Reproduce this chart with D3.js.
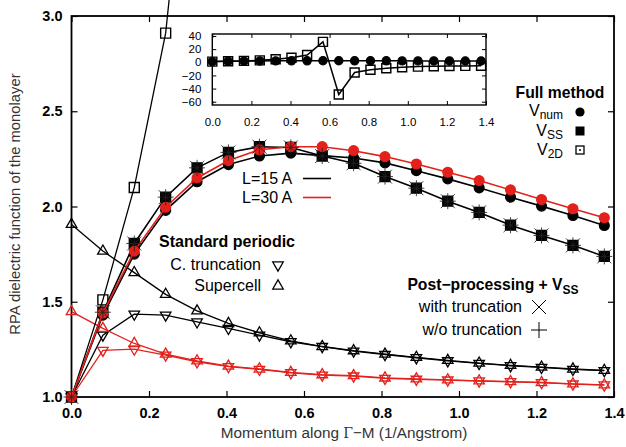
<!DOCTYPE html>
<html>
<head>
<meta charset="utf-8">
<script src="https://cdn.jsdelivr.net/npm/d3@7"></script>
<style>
  body { margin: 0; background: #fff; }
  text { font-family: "Liberation Sans", Arial, Helvetica, sans-serif; }
</style>
</head>
<body>
<div class="canvas"></div>
<script>
// momentum grid along Gamma-M (1/Angstrom)
const momentum = [0.000, 0.081, 0.162, 0.243, 0.324, 0.405, 0.485, 0.566, 0.647,
                  0.728, 0.809, 0.890, 0.971, 1.052, 1.133, 1.213, 1.294, 1.375];

// full method
const vnum15 = [1.00, 1.43, 1.75, 1.98, 2.13, 2.22, 2.265, 2.28, 2.267, 2.255, 2.229, 2.188, 2.145, 2.098, 2.049, 2.002, 1.953, 1.900];
const vnum30 = [1.00, 1.44, 1.766, 1.996, 2.15, 2.241, 2.298, 2.314, 2.314, 2.293, 2.262, 2.223, 2.180, 2.136, 2.087, 2.037, 1.988, 1.941];
const vss15 = [1.00, 1.445, 1.806, 2.049, 2.203, 2.284, 2.314, 2.310, 2.265, 2.227, 2.157, 2.096, 2.028, 1.969, 1.902, 1.848, 1.796, 1.738];
const v2d15 = [1.00, 1.51, 2.10, 2.91, 4.5, 6.9, 11, 31, -49, -15.5, -11.5, -9, -7.5, -6.6, -6.2, -5.8, -5.5, -5.3];

// standard periodic
const cTrunc15 = [1.00, 1.325, 1.435, 1.430, 1.394, 1.360, 1.325, 1.290, 1.265, 1.241, 1.223, 1.206, 1.190, 1.176, 1.164, 1.155, 1.145, 1.138];
const supercell15 = [1.906, 1.766, 1.653, 1.539, 1.452, 1.386, 1.337, 1.295, 1.265, 1.243, 1.225, 1.208, 1.192, 1.178, 1.166, 1.157, 1.147, 1.140];
const cTrunc30 = [1.00, 1.245, 1.251, 1.220, 1.185, 1.159, 1.145, 1.127, 1.115, 1.110, 1.098, 1.093, 1.089, 1.084, 1.080, 1.075, 1.068, 1.063];
const supercell30 = [1.448, 1.360, 1.281, 1.225, 1.190, 1.162, 1.147, 1.129, 1.117, 1.112, 1.100, 1.095, 1.090, 1.085, 1.081, 1.076, 1.069, 1.064];

// post-processing + V_SS
const postTrunc15 = [1.00, 1.445, 1.806, 2.049, 2.203, 2.284, 2.314, 2.310, 2.265, 2.227, 2.157, 2.096, 2.028, 1.969, 1.902, 1.848, 1.796, 1.738];
const postNoTrunc15 = [1.00, 1.445, 1.806, 2.049, 2.203, 2.284, 2.314, 2.310, 2.265, 2.227, 2.157, 2.096, 2.028, 1.969, 1.902, 1.848, 1.796, 1.738];

const xTicks = [0, 0.2, 0.4, 0.6, 0.8, 1.0, 1.2, 1.4];
const yTicks = [1.0, 1.5, 2.0, 2.5, 3.0];
const insetYTicks = [-60, -40, -20, 0, 20, 40];

const dims = { width: 626, height: 447, left: 71.5, right: 614, top: 16, bottom: 397 };
const inset = { left: 212.3, right: 486, top: 34, bottom: 105 };
const red = '#e3201b';
const black = '#000';

const svg = d3.select('.canvas')
    .append('svg')
    .attr('width', dims.width)
    .attr('height', dims.height);

const x = d3.scaleLinear().domain([0, 1.4]).range([dims.left, dims.right]);
const y = d3.scaleLinear().domain([1, 3]).range([dims.bottom, dims.top]);
const xi = d3.scaleLinear().domain([0, 1.4]).range([inset.left, inset.right]);
const yi = d3.scaleLinear().domain([-65, 43]).range([inset.bottom, inset.top]);

const zip = vals => vals.map((v, i) => [momentum[i], v]);

// ---------- axes ----------
const styleAxis = (g, size, weight) => {
    g.select('.domain').remove();
    g.selectAll('.tick line').attr('stroke', '#000').attr('stroke-width', 1.2);
    g.selectAll('.tick text')
        .attr('fill', '#000')
        .style('font-size', size + 'px')
        .style('font-weight', weight)
        .style('font-family', '"Liberation Sans", Arial, sans-serif');
};

const fmt1 = d3.format('.1f');

svg.append('g')
    .attr('transform', `translate(0,${dims.bottom})`)
    .call(d3.axisBottom(x).tickValues(xTicks).tickSize(-6).tickPadding(11).tickFormat(fmt1))
    .call(g => styleAxis(g, 14.5, 'bold'));
svg.append('g')
    .attr('transform', `translate(0,${dims.top})`)
    .call(d3.axisTop(x).tickValues(xTicks).tickSize(-6).tickFormat(''))
    .call(g => styleAxis(g, 14, 'bold'));
svg.append('g')
    .attr('transform', `translate(${dims.left},0)`)
    .call(d3.axisLeft(y).tickValues(yTicks).tickSize(-6).tickPadding(9).tickFormat(fmt1))
    .call(g => styleAxis(g, 14.5, 'bold'));
svg.append('g')
    .attr('transform', `translate(${dims.right},0)`)
    .call(d3.axisRight(y).tickValues(yTicks).tickSize(-6).tickFormat(''))
    .call(g => styleAxis(g, 14, 'bold'));

svg.append('rect')
    .attr('x', dims.left).attr('y', dims.top)
    .attr('width', dims.right - dims.left).attr('height', dims.bottom - dims.top)
    .attr('fill', 'none').attr('stroke', '#000').attr('stroke-width', 1.8);

const xTitle = svg.append('text')
    .attr('x', 344).attr('y', 438)
    .attr('text-anchor', 'middle')
    .attr('fill', '#333')
    .style('font-size', '15.3px');
xTitle.append('tspan').text('Momentum along ');
xTitle.append('tspan').style('font-family', '"DejaVu Serif", "Liberation Serif", serif').style('font-size', '14px').text('Γ');
xTitle.append('tspan').text('−M (1/Angstrom)');

svg.append('text')
    .attr('transform', 'translate(20,204) rotate(-90)')
    .attr('text-anchor', 'middle')
    .attr('fill', '#333')
    .style('font-size', '14.8px')
    .text('RPA dielectric function of the monolayer');

// ---------- markers ----------
const shapes = {
    circle: d3.symbol().type(d3.symbolCircle).size(76)(),
    square: d3.symbol().type(d3.symbolSquare).size(100)(),
    triUp: d3.symbol().type(d3.symbolTriangle).size(48)(),
    times: 'M-7,-7L7,7M-7,7L7,-7',
    plus: 'M-8,0L8,0M0,-8L0,8'
};

const drawLine = (g, pts, color, xs, ys, width = 1.5) => {
    g.append('path')
        .datum(pts)
        .attr('fill', 'none')
        .attr('stroke', color)
        .attr('stroke-width', width)
        .attr('d', d3.line().x(d => xs(d[0])).y(d => ys(d[1])));
};

const drawMarks = (g, pts, shape, color, xs, ys, opts = {}) => {
    const filled = opts.filled || false;
    g.selectAll(null)
        .data(pts)
        .enter()
        .append('path')
        .attr('d', opts.path || shapes[shape])
        .attr('transform', d => `translate(${xs(d[0])},${ys(d[1])})${opts.rotate ? ' rotate(180)' : ''}${opts.scale ? ` scale(${opts.scale})` : ''}`)
        .attr('fill', filled ? color : 'none')
        .attr('stroke', color)
        .attr('stroke-width', opts.sw || 1.3)
        .attr('stroke-opacity', opts.opacity || 1);
};

const plot = svg.append('g');

// standard periodic
[[cTrunc15, supercell15, black], [cTrunc30, supercell30, red]].forEach(([ct, sc, c]) => {
    drawLine(plot, zip(sc), c, x, y, 1.3);
    drawLine(plot, zip(ct), c, x, y, 1.3);
    drawMarks(plot, zip(sc), 'triUp', c, x, y, { sw: 1.3 });
    drawMarks(plot, zip(ct), 'triUp', c, x, y, { sw: 1.3, rotate: true });
});

// V2D in main panel: only segments touching the visible range (like gnuplot's clipping)
svg.append('clipPath').attr('id', 'mainClip')
    .append('rect').attr('x', dims.left).attr('y', 0)
    .attr('width', dims.right - dims.left).attr('height', dims.bottom);
const inRange = v => v >= 1 && v <= 3;
const v2dPts = zip(v2d15);
const v2dDefined = v2dPts.filter((d, i) => inRange(d[1]) || (i > 0 && inRange(v2dPts[i - 1][1])));
const v2dGroup = plot.append('g').attr('clip-path', 'url(#mainClip)');
drawLine(v2dGroup, v2dDefined, black, x, y, 1.3);
drawMarks(v2dGroup, v2dPts.filter(d => inRange(d[1])), 'square', black, x, y, { sw: 1.4 });

// full method
drawLine(plot, zip(vnum15), black, x, y, 1.6);
drawMarks(plot, zip(vnum15), 'circle', black, x, y, { filled: true });
drawLine(plot, zip(vss15), black, x, y, 1.6);
drawMarks(plot, zip(vss15), 'square', black, x, y, { filled: true });
drawLine(plot, zip(vnum30), red, x, y, 1.6);
drawMarks(plot, zip(vnum30), 'circle', red, x, y, { filled: true });

// post-processing
drawMarks(plot, zip(postTrunc15), 'times', '#222', x, y, { sw: 1, opacity: 0.85 });
drawMarks(plot, zip(postNoTrunc15), 'plus', '#222', x, y, { sw: 1, opacity: 0.85 });

// ---------- inset ----------
const ins = svg.append('g');
ins.append('g')
    .attr('transform', `translate(0,${inset.bottom})`)
    .call(d3.axisBottom(xi).tickValues(xTicks).tickSize(-4).tickPadding(12.5).tickFormat(fmt1))
    .call(g => styleAxis(g, 11.5, 'normal'));
ins.append('g')
    .attr('transform', `translate(0,${inset.top})`)
    .call(d3.axisTop(xi).tickValues(xTicks).tickSize(-4).tickFormat(''))
    .call(g => styleAxis(g, 11, 'normal'));
ins.append('g')
    .attr('transform', `translate(${inset.left},0)`)
    .call(d3.axisLeft(yi).tickValues(insetYTicks).tickSize(-4).tickPadding(11).tickFormat(d => d < 0 ? '−' + Math.abs(d) : d))
    .call(g => styleAxis(g, 11.5, 'normal'));
ins.append('g')
    .attr('transform', `translate(${inset.right},0)`)
    .call(d3.axisRight(yi).tickValues(insetYTicks).tickSize(-4).tickFormat(''))
    .call(g => styleAxis(g, 11, 'normal'));
ins.selectAll('.tick line').attr('stroke-width', 1);
ins.append('rect')
    .attr('x', inset.left).attr('y', inset.top)
    .attr('width', inset.right - inset.left).attr('height', inset.bottom - inset.top)
    .attr('fill', 'none').attr('stroke', '#000').attr('stroke-width', 1.4);

drawLine(ins, zip(vnum15), black, xi, yi, 1.5);
drawMarks(ins, zip(vnum15), 'circle', black, xi, yi, { filled: true, scale: 0.85 });
drawLine(ins, zip(v2d15), black, xi, yi, 1.5);
drawMarks(ins, zip(v2d15), 'square', black, xi, yi, { sw: 1.6, scale: 0.9 });

// ---------- legends ----------
const leg = svg.append('g');
const addText = (xp, yp, str, opts = {}) => leg.append('text')
    .attr('x', xp).attr('y', yp)
    .attr('text-anchor', opts.anchor || 'start')
    .style('font-size', (opts.size || 16) + 'px')
    .style('font-weight', opts.weight || 'normal')
    .attr('fill', '#000')
    .text(str);

addText(242, 184, 'L=15 A', { size: 16 });
addText(242, 203, 'L=30 A', { size: 16 });
leg.append('line').attr('x1', 303).attr('x2', 331).attr('y1', 178.5).attr('y2', 178.5).attr('stroke', black).attr('stroke-width', 1.6);
leg.append('line').attr('x1', 303).attr('x2', 331).attr('y1', 197.5).attr('y2', 197.5).attr('stroke', red).attr('stroke-width', 1.6);

addText(227, 247, 'Standard periodic', { anchor: 'middle', weight: 'bold', size: 16 });
addText(261, 270, 'C. truncation', { anchor: 'end' });
addText(261, 291, 'Supercell', { anchor: 'end' });
leg.append('path').attr('d', shapes.triUp).attr('transform', 'translate(278,265) rotate(180)')
    .attr('fill', 'none').attr('stroke', '#000').attr('stroke-width', 1.3);
leg.append('path').attr('d', shapes.triUp).attr('transform', 'translate(278,286)')
    .attr('fill', 'none').attr('stroke', '#000').attr('stroke-width', 1.3);

addText(560, 98, 'Full method', { anchor: 'middle', weight: 'bold', size: 15.7 });
const subLabel = (xEnd, yp, main, sub) => {
    const t = addText(xEnd, yp, '', { anchor: 'end', size: 16 });
    t.append('tspan').text(main);
    t.append('tspan').attr('dy', 3).style('font-size', '12px').text(sub);
    return t;
};
subLabel(563, 116, 'V', 'num');
subLabel(563, 135.5, 'V', 'SS');
subLabel(563, 155, 'V', '2D');
leg.append('circle').attr('cx', 580).attr('cy', 112).attr('r', 4.6).attr('fill', '#000');
leg.append('rect').attr('x', 575.5).attr('y', 126.5).attr('width', 9).attr('height', 9).attr('fill', '#000');
leg.append('rect').attr('x', 576).attr('y', 146).attr('width', 8).attr('height', 8)
    .attr('fill', 'none').attr('stroke', '#000').attr('stroke-width', 1.3);
leg.append('circle').attr('cx', 580).attr('cy', 150).attr('r', 1).attr('fill', '#000');

const pp = addText(493, 290, '', { anchor: 'middle', weight: 'bold', size: 15.7 });
pp.append('tspan').text('Post−processing + V');
pp.append('tspan').attr('dy', 4).style('font-size', '12px').text('SS');
addText(522, 312, 'with truncation', { anchor: 'end' });
addText(522, 335, 'w/o truncation', { anchor: 'end' });
leg.append('path').attr('d', shapes.times).attr('transform', 'translate(539,307)')
    .attr('stroke', '#000').attr('stroke-width', 1);
leg.append('path').attr('d', shapes.plus).attr('transform', 'translate(539,330)')
    .attr('stroke', '#000').attr('stroke-width', 1);
</script>
</body>
</html>
